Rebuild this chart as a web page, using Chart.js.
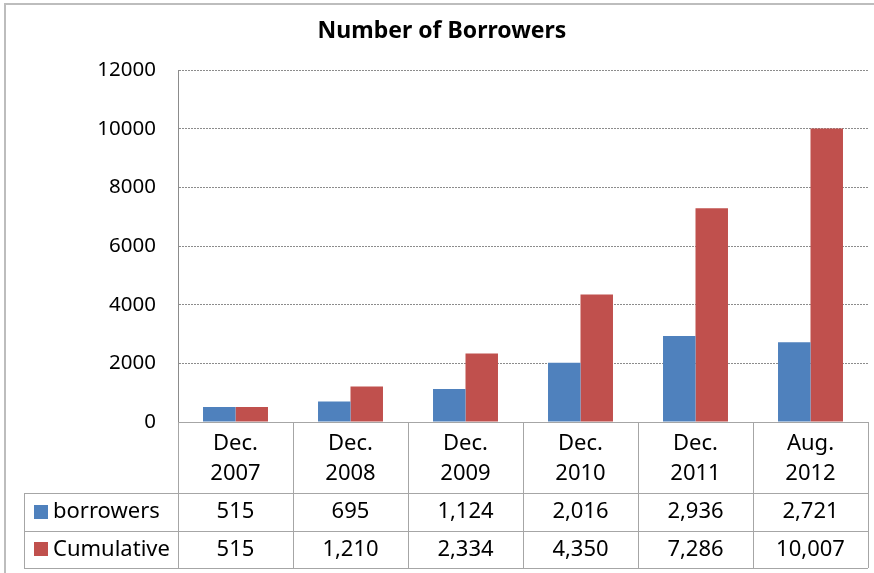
<!DOCTYPE html>
<html>
<head>
<meta charset="utf-8">
<script src="https://cdn.jsdelivr.net/npm/chart.js@4"></script>
<style>
  body { margin: 0; background: #fff; }
  #wrap { width: 874px; height: 573px; }
</style>
</head>
<body>
<div id="wrap"><canvas id="borrowersChart" width="874" height="573"></canvas></div>
<script>
// DATA
const categories = [['Dec.', '2007'], ['Dec.', '2008'], ['Dec.', '2009'], ['Dec.', '2010'], ['Dec.', '2011'], ['Aug.', '2012']];
const borrowers = [515, 695, 1124, 2016, 2936, 2721];
const cumulative = [515, 1210, 2334, 4350, 7286, 10007];
const seriesNames = ['borrowers', 'Cumulative'];
const yMax = 12000, yStep = 2000;

const BLUE = '#4F81BD', RED = '#C0504D', LINE = '#a6a6a6';
const FONT = '"Noto Sans", sans-serif';

// DATA TABLE UNDER THE AXIS
const dataTable = {
  id: 'dataTable',
  beforeDraw(chart) {
    // outer frame, only top and left edges show
    const c = chart.ctx;
    c.save();
    c.fillStyle = '#bdbdbd';
    c.fillRect(4, 3, 870, 2);
    c.fillRect(4, 3, 2, 570);
    c.restore();
  },
  afterDraw(chart) {
    const c = chart.ctx;
    const x = chart.scales.x;
    const top = chart.chartArea.bottom;
    const headBottom = x.bottom;
    const rowH = 37.5;
    const rows = [borrowers, cumulative];
    const colors = [BLUE, RED];
    const step = (x.right - x.left) / categories.length;
    const tableLeft = 24;

    c.save();
    c.strokeStyle = LINE;
    c.lineWidth = 1;
    c.beginPath();
    // horizontal lines
    c.moveTo(x.left, Math.round(top) + 0.5); c.lineTo(x.right, Math.round(top) + 0.5);
    for (let r = 0; r <= rows.length; r++) {
      const y = Math.round(headBottom + r * rowH) + 0.5;
      c.moveTo(tableLeft, y); c.lineTo(x.right, y);
    }
    // vertical lines
    const bottom = Math.round(headBottom + rows.length * rowH);
    c.moveTo(tableLeft + 0.5, Math.round(headBottom)); c.lineTo(tableLeft + 0.5, bottom);
    for (let i = 0; i <= categories.length; i++) {
      const xx = Math.round(x.left + i * step) + 0.5;
      c.moveTo(xx, top); c.lineTo(xx, bottom);
    }
    c.stroke();

    // rows
    c.font = '22px ' + FONT;
    c.textBaseline = 'middle';
    rows.forEach((vals, r) => {
      const cy = headBottom + r * rowH + rowH / 2;
      c.fillStyle = colors[r];
      c.fillRect(34, Math.round(cy - 7), 14, 14);
      c.fillStyle = '#000';
      c.textAlign = 'left';
      c.fillText(seriesNames[r], 53, cy);
      c.textAlign = 'center';
      vals.forEach((v, i) => {
        c.fillText(v.toLocaleString('en-US'), x.getPixelForValue(i), cy);
      });
    });
    c.restore();
  }
};

// CHART
const ctx = document.getElementById('borrowersChart').getContext('2d');
const chart = new Chart(ctx, {
  type: 'bar',
  data: {
    labels: categories,
    datasets: [
      { label: seriesNames[0], data: borrowers, backgroundColor: BLUE },
      { label: seriesNames[1], data: cumulative, backgroundColor: RED }
    ]
  },
  options: {
    responsive: false,
    animation: false,
    barPercentage: 1,
    categoryPercentage: 0.565,
    layout: { padding: { left: 16, right: 6, top: 0, bottom: 80 } },
    plugins: {
      legend: { display: false },
      tooltip: { enabled: false },
      title: {
        display: true,
        text: 'Number of Borrowers',
        color: '#000',
        font: { family: FONT, size: 23, weight: 'bold', lineHeight: 1.2 },
        padding: { top: 18, bottom: 24.4 }
      }
    },
    scales: {
      x: {
        grid: { display: false, drawTicks: false },
        border: { display: false },
        ticks: { color: '#000', font: { family: FONT, size: 22, lineHeight: 1.36 }, padding: 7, maxRotation: 0 },
        afterFit: s => { s.height = 71; }
      },
      y: {
        min: 0,
        max: yMax,
        ticks: { stepSize: yStep, color: '#000', font: { family: FONT, size: 20.5 }, padding: 22, callback: v => String(v) },
        grid: { color: '#8c8c8c', drawTicks: false, lineWidth: 1 },
        border: { display: true, color: '#8c8c8c', dash: [2, 1] },
        afterFit: s => { s.width = 162; }
      }
    }
  },
  plugins: [dataTable]
});
</script>
</body>
</html>
